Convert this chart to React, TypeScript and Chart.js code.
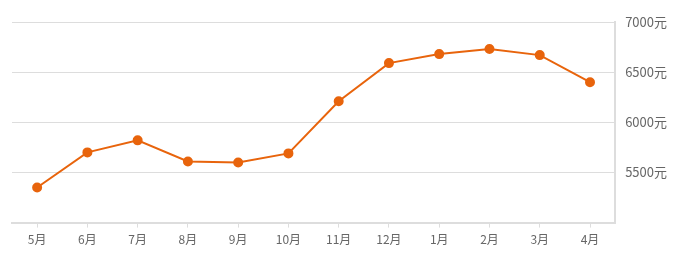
import React, { useEffect, useRef } from "react";
import { Chart, registerables } from "chart.js";

Chart.register(...registerables);

const months = ["5月", "6月", "7月", "8月", "9月", "10月", "11月", "12月", "1月", "2月", "3月", "4月"];
const prices = [5350, 5700, 5820, 5610, 5600, 5690, 6210, 6590, 6680, 6730, 6670, 6400];
const yMin = 5000;
const yMax = 7000;
const yStep = 500;
const unit = "元";

export default function App() {
  const ref = useRef<HTMLCanvasElement | null>(null);
  useEffect(() => {
    if (!ref.current) return;
    const orange = "#E8640C";
    const chart = new Chart(ref.current, {
      type: "line",
      data: {
        labels: months,
        datasets: [
          {
            data: prices,
            borderColor: orange,
            backgroundColor: orange,
            pointBackgroundColor: orange,
            pointBorderColor: orange,
            borderWidth: 2,
            pointRadius: 4,
            tension: 0,
          },
        ],
      },
      options: {
        animation: false,
        responsive: false,
        maintainAspectRatio: false,
        layout: { padding: { left: 12, top: 22, right: 9, bottom: 8 } },
        plugins: { legend: { display: false }, tooltip: { enabled: false } },
        scales: {
          x: {
            offset: true,
            grid: {
              display: true,
              drawOnChartArea: false,
              offset: false,
              tickLength: 5,
              color: "#ddd",
            },
            border: { color: "#ddd", width: 2 },
            ticks: {
              color: "#666",
              padding: 5,
              font: { family: "'Noto Sans CJK SC', sans-serif", size: 12 },
            },
          },
          y: {
            position: "right",
            min: yMin,
            max: yMax,
            grid: { color: "#ddd", drawTicks: false },
            border: { color: "#ddd", width: 2 },
            ticks: {
              stepSize: yStep,
              padding: 10,
              color: "#666",
              font: { family: "'Noto Sans CJK SC', sans-serif", size: 13 },
              callback: (v: any) => (Number(v) === yMin ? "" : `${v}${unit}`),
            },
          },
        },
      },
    });
    return () => chart.destroy();
  }, []);
  return (
    <div style={{ position: "fixed", left: 0, top: 0, width: 686, height: 260, background: "#fff" }}>
      <canvas ref={ref} width={686} height={260} />
    </div>
  );
}
